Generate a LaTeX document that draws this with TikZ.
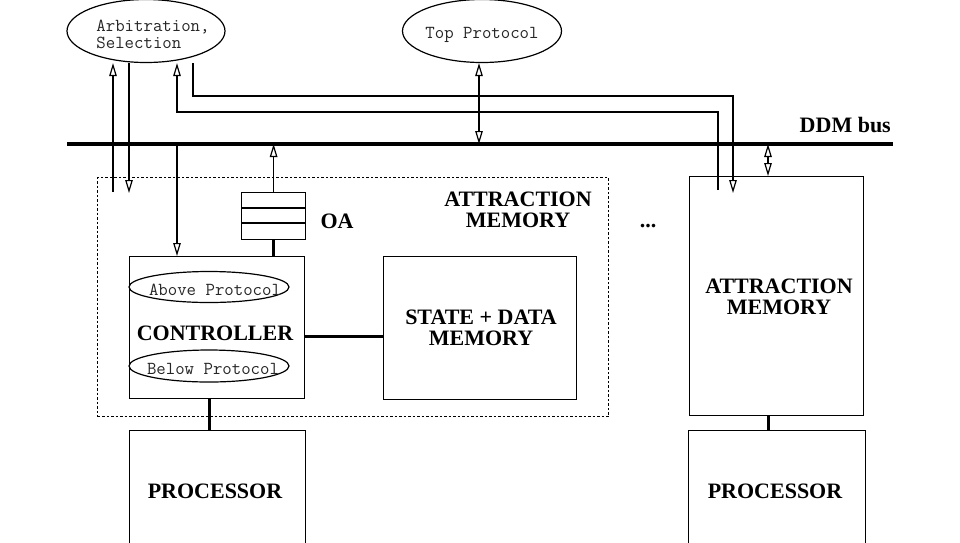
\documentclass[tikz,border=0pt]{standalone}
\usepackage{fontspec}
\setmainfont{Liberation Serif}
\usetikzlibrary{arrows.meta,shapes.geometric}
\begin{document}
\begin{tikzpicture}[x=1pt,y=-1pt,
  ln/.style={line width=1.2pt},
  box/.style={draw, ln, rectangle, inner sep=0pt, anchor=north west},
  ell/.style={draw, ln, ellipse, inner sep=0pt},
  big/.style={font=\bfseries\fontsize{22}{21.5}\selectfont, align=center, inner sep=0pt},
  tt/.style={font=\ttfamily\fontsize{18.3}{17}\selectfont, align=left, inner sep=0pt, text=black!85},
  tip/.tip={Triangle[open,length=13pt,width=7.5pt]},
  arr/.style={ln, -tip},
  darr/.style={ln, tip-tip},
  heavy/.style={line width=3pt}]
\useasboundingbox (0,0) rectangle (960,542);
\fill[white] (0,0) rectangle (960,542);
\clip (0,0) rectangle (960,542);

% top ellipses
\node[ell, minimum width=158pt, minimum height=63pt] (arb) at (146,31) {};
\node[tt] (arbt) at (153,34) {Arbitration,\\Selection};
\node[ell, minimum width=159pt, minimum height=63pt] (top) at (482,31) {};
\node[tt] (topt) at (482,35) {Top Protocol};

% bus
\coordinate (busL) at (67,144);
\coordinate (busR) at (893,144);
\draw[line width=3.2pt] (busL) -- (busR);
\node[big, anchor=south east] (busl) at (891,133) {DDM bus};

% attraction memory (dashed)
\node[box, dashed, dash pattern=on 2.5pt off 2pt, minimum width=511pt, minimum height=239pt] (am) at (97,177) {};
\node[big] (amt) at (518,210) {ATTRACTION\\MEMORY};

% OA buffer
\node[box, minimum width=64pt, minimum height=47pt] (oa) at (241,192) {};
\coordinate (oa1) at (273,208);
\coordinate (oa2) at (273,223);
\draw[ln] (oa.west |- oa1) -- (oa.east |- oa1);
\draw[ln] (oa.west |- oa2) -- (oa.east |- oa2);
\node[big] (oat) at (337,221) {OA};

% controller
\node[box, minimum width=175pt, minimum height=142pt] (ctrl) at (129,256) {};
\node[ell, minimum width=160pt, minimum height=31pt] (above) at (209,287) {};
\node[tt] (abovet) at (215,290) {Above Protocol};
\node[big] (ctrlt) at (215,333) {CONTROLLER};
\node[ell, minimum width=160pt, minimum height=32pt] (below) at (209,366) {};
\node[tt] (belowt) at (213,369) {Below Protocol};

% state + data memory
\node[box, minimum width=193pt, minimum height=143pt] (sdm) at (383,256) {};
\node[big] (sdmt) at (481,328) {STATE + DATA\\MEMORY};

% processors
\node[box, minimum width=176pt, minimum height=130pt] (proc1) at (129,430) {};
\node[big] (proc1t) at (215,491) {PROCESSOR};
\node[box, minimum width=174pt, minimum height=239pt] (ram) at (689,176) {};
\node[big] (ramt) at (779,297) {ATTRACTION\\MEMORY};
\node[box, minimum width=177pt, minimum height=130pt] (proc2) at (688,430) {};
\node[big] (proc2t) at (775,491) {PROCESSOR};

\node[big] (dots) at (648,226) {...};

% connectors
\coordinate (a1) at (113,192);
\coordinate (a2) at (129,193);
\coordinate (k1) at (177,112);
\coordinate (r1) at (718,190);
\coordinate (k2) at (193,96);
\coordinate (r2) at (733,193);
\coordinate (t1) at (479,144);
\coordinate (t2) at (768,144);
\coordinate (c1) at (177,144);
\coordinate (h1) at (340,336);
\coordinate (v1) at (209,414);

\draw[arr] (a1) -- (a1 |- arb.south);
\draw[arr] (a2 |- arb.south) -- (a2);
\draw[arr] (r1) |- (k1) -- (k1 |- arb.south);
\draw[arr] (k2 |- arb.south) -- (k2) -| (r2);
\draw[darr] (t1 |- top.south) -- (t1);
\draw[darr] (t2) -- (t2 |- ram.north);
\draw[arr] (c1) -- (c1 |- ctrl.north);
\draw[arr] (oa.north) -- (oa.north |- busL);
\draw[heavy] (oa.south) -- (oa.south |- ctrl.north);
\draw[heavy] (ctrl.east |- h1) -- (sdm.west |- h1);
\draw[heavy] (v1 |- ctrl.south) -- (v1 |- proc1.north);
\draw[heavy] (t2 |- ram.south) -- (t2 |- proc2.north);
\end{tikzpicture}
\end{document}
